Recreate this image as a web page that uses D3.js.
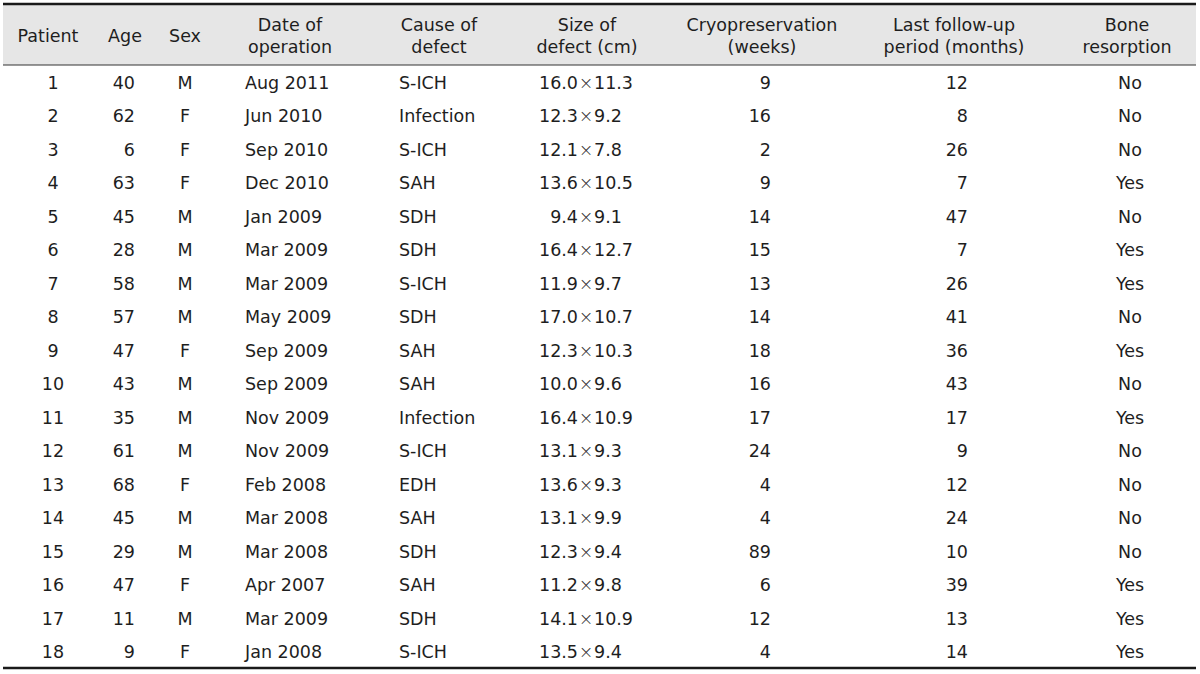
<!DOCTYPE html>
<meta charset="utf-8">
<style>
    body { margin:0; background:#fff; }
    text { font-family:'DejaVu Sans', sans-serif; font-size:17.5px; fill:#1e1e1e; }
    text.times { font-family:'DejaVu Sans', sans-serif; font-weight:200; fill:#333; }
</style>
<body>
<script src="https://cdn.jsdelivr.net/npm/d3@7"></script>
<script>
var width = 1200, height = 674;

var patients = d3.range(1, 19);
var ages = [40, 62, 6, 63, 45, 28, 58, 57, 47, 43, 35, 61, 68, 45, 29, 47, 11, 9];
var sexes = ["M","F","F","F","M","M","M","M","F","M","M","M","F","M","M","F","M","F"];
var dates = ["Aug 2011","Jun 2010","Sep 2010","Dec 2010","Jan 2009","Mar 2009","Mar 2009","May 2009",
             "Sep 2009","Sep 2009","Nov 2009","Nov 2009","Feb 2008","Mar 2008","Mar 2008","Apr 2007",
             "Mar 2009","Jan 2008"];
var causes = ["S-ICH","Infection","S-ICH","SAH","SDH","SDH","S-ICH","SDH","SAH","SAH","Infection",
              "S-ICH","EDH","SAH","SDH","SAH","SDH","S-ICH"];
var sizeA = ["16.0","12.3","12.1","13.6","9.4","16.4","11.9","17.0","12.3","10.0","16.4","13.1",
             "13.6","13.1","12.3","11.2","14.1","13.5"];
var sizeB = ["11.3","9.2","7.8","10.5","9.1","12.7","9.7","10.7","10.3","9.6","10.9","9.3",
             "9.3","9.9","9.4","9.8","10.9","9.4"];
var cryoWeeks = [9, 16, 2, 9, 14, 15, 13, 14, 18, 16, 17, 24, 4, 4, 89, 6, 12, 4];
var followMonths = [12, 8, 26, 7, 47, 7, 26, 41, 36, 43, 17, 9, 12, 24, 10, 39, 13, 14];
var resorption = ["No","No","No","Yes","No","Yes","Yes","No","Yes","No","Yes","No","No","No","No",
                  "Yes","Yes","Yes"];

var headers = [["Patient"], ["Age"], ["Sex"], ["Date of", "operation"], ["Cause of", "defect"],
               ["Size of", "defect (cm)"], ["Cryopreservation", "(weeks)"],
               ["Last follow-up", "period (months)"], ["Bone", "resorption"]];
var headerX = [48, 125, 185, 290, 439, 587, 762, 954, 1127];

var svg = d3.select("body").append("svg")
    .attr("width", width)
    .attr("height", height);

var tableLeft = 3, tableRight = 1196, tableTop = 4, headBottom = 65, tableBottom = 668;

// header band
svg.append("rect")
    .attr("x", tableLeft).attr("y", tableTop)
    .attr("width", tableRight - tableLeft).attr("height", headBottom - tableTop)
    .attr("fill", "#e6e6e6");

svg.append("line").attr("x1", tableLeft).attr("x2", tableRight).attr("y1", tableTop).attr("y2", tableTop)
    .attr("stroke", "#1a1a1a").attr("stroke-width", 2.5);
svg.append("line").attr("x1", tableLeft).attr("x2", tableRight).attr("y1", headBottom).attr("y2", headBottom)
    .attr("stroke", "#333").attr("stroke-width", 1.2);
svg.append("line").attr("x1", tableLeft).attr("x2", tableRight).attr("y1", tableBottom).attr("y2", tableBottom)
    .attr("stroke", "#1a1a1a").attr("stroke-width", 2.5);

var hg = svg.selectAll("text.head").data(headers).enter().append("text")
    .attr("class", "head")
    .attr("text-anchor", "middle")
    .attr("x", function(d, i) { return headerX[i]; });
hg.each(function(d) {
    var t = d3.select(this);
    var y0 = d.length === 1 ? 42 : 31;
    d.forEach(function(s, k) {
        t.append("tspan").attr("x", t.attr("x")).attr("y", y0 + k * 22).text(s);
    });
});

var y = d3.scaleBand().domain(patients).range([headBottom, tableBottom]);

var rows = svg.selectAll("g.row").data(patients).enter().append("g")
    .attr("class", "row")
    .attr("transform", function(d) { return "translate(0," + (y(d) + y.bandwidth() / 2 + 7) + ")"; });

function cell(x, anchor, values, cls) {
    rows.append("text")
        .attr("class", cls || null)
        .attr("x", x)
        .attr("text-anchor", anchor)
        .text(function(d, i) { return values[i]; });
}

cell(53, "middle", patients);
cell(135, "end", ages);
cell(185, "middle", sexes);
cell(245, "start", dates);
cell(399, "start", causes);
cell(578, "end", sizeA);
cell(586, "middle", patients.map(function() { return "\u00d7"; }), "times");
cell(594, "start", sizeB);
cell(771, "end", cryoWeeks);
cell(968, "end", followMonths);
cell(1130, "middle", resorption);
</script>
</body>
